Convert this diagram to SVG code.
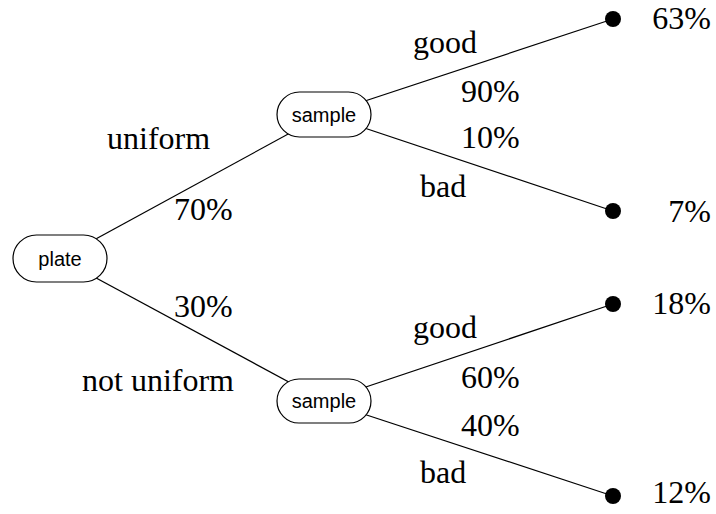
<svg xmlns="http://www.w3.org/2000/svg" width="716" height="514" viewBox="0 0 716 514">
<style>
.edge{stroke:#000;stroke-width:1.2;fill:none}
.node rect{fill:#fff;stroke:#000;stroke-width:1.2}
.node text{font-family:"Liberation Sans",Arial,sans-serif;font-size:20px;text-anchor:middle;fill:#000}
.lbl{font-family:"Liberation Serif","Times New Roman",serif;font-size:32px;fill:#000}
.end{fill:#000}
</style>
<rect width="716" height="514" fill="#fff"/>
<g id="connectors">
<line class="edge" x1="60" y1="258.5" x2="324" y2="114.5"/>
<line class="edge" x1="60" y1="258.5" x2="324" y2="401"/>
<line class="edge" x1="324" y1="114.5" x2="613" y2="19"/>
<line class="edge" x1="324" y1="114.5" x2="613" y2="211"/>
<line class="edge" x1="324" y1="401" x2="613" y2="304"/>
<line class="edge" x1="324" y1="401" x2="613" y2="496"/>
</g>
<g id="labels">
<text class="lbl" x="107" y="149">uniform</text>
<text class="lbl" x="174" y="220">70%</text>
<text class="lbl" x="174" y="317">30%</text>
<text class="lbl" x="82" y="391">not uniform</text>
<text class="lbl" x="413" y="53">good</text>
<text class="lbl" x="461" y="102">90%</text>
<text class="lbl" x="461" y="148">10%</text>
<text class="lbl" x="420" y="197">bad</text>
<text class="lbl" x="413" y="338">good</text>
<text class="lbl" x="461" y="388">60%</text>
<text class="lbl" x="461" y="436">40%</text>
<text class="lbl" x="420" y="483">bad</text>
</g>
<g id="plate" class="node"><rect x="13" y="235" width="94" height="47" rx="23.5"/><text x="60" y="265.5">plate</text></g>
<g id="sample1" class="node"><rect x="277" y="92" width="94" height="45" rx="22.5"/><text x="324" y="121.5">sample</text></g>
<g id="sample2" class="node"><rect x="277" y="379" width="94" height="44" rx="22"/><text x="324" y="408">sample</text></g>
<g id="out63"><circle class="end" cx="613" cy="19" r="8"/><text class="lbl" x="711" y="29" text-anchor="end">63%</text></g>
<g id="out7"><circle class="end" cx="613" cy="211" r="8"/><text class="lbl" x="711" y="222" text-anchor="end">7%</text></g>
<g id="out18"><circle class="end" cx="613" cy="304" r="8"/><text class="lbl" x="711" y="314" text-anchor="end">18%</text></g>
<g id="out12"><circle class="end" cx="613" cy="496" r="8"/><text class="lbl" x="711" y="503" text-anchor="end">12%</text></g>
</svg>
